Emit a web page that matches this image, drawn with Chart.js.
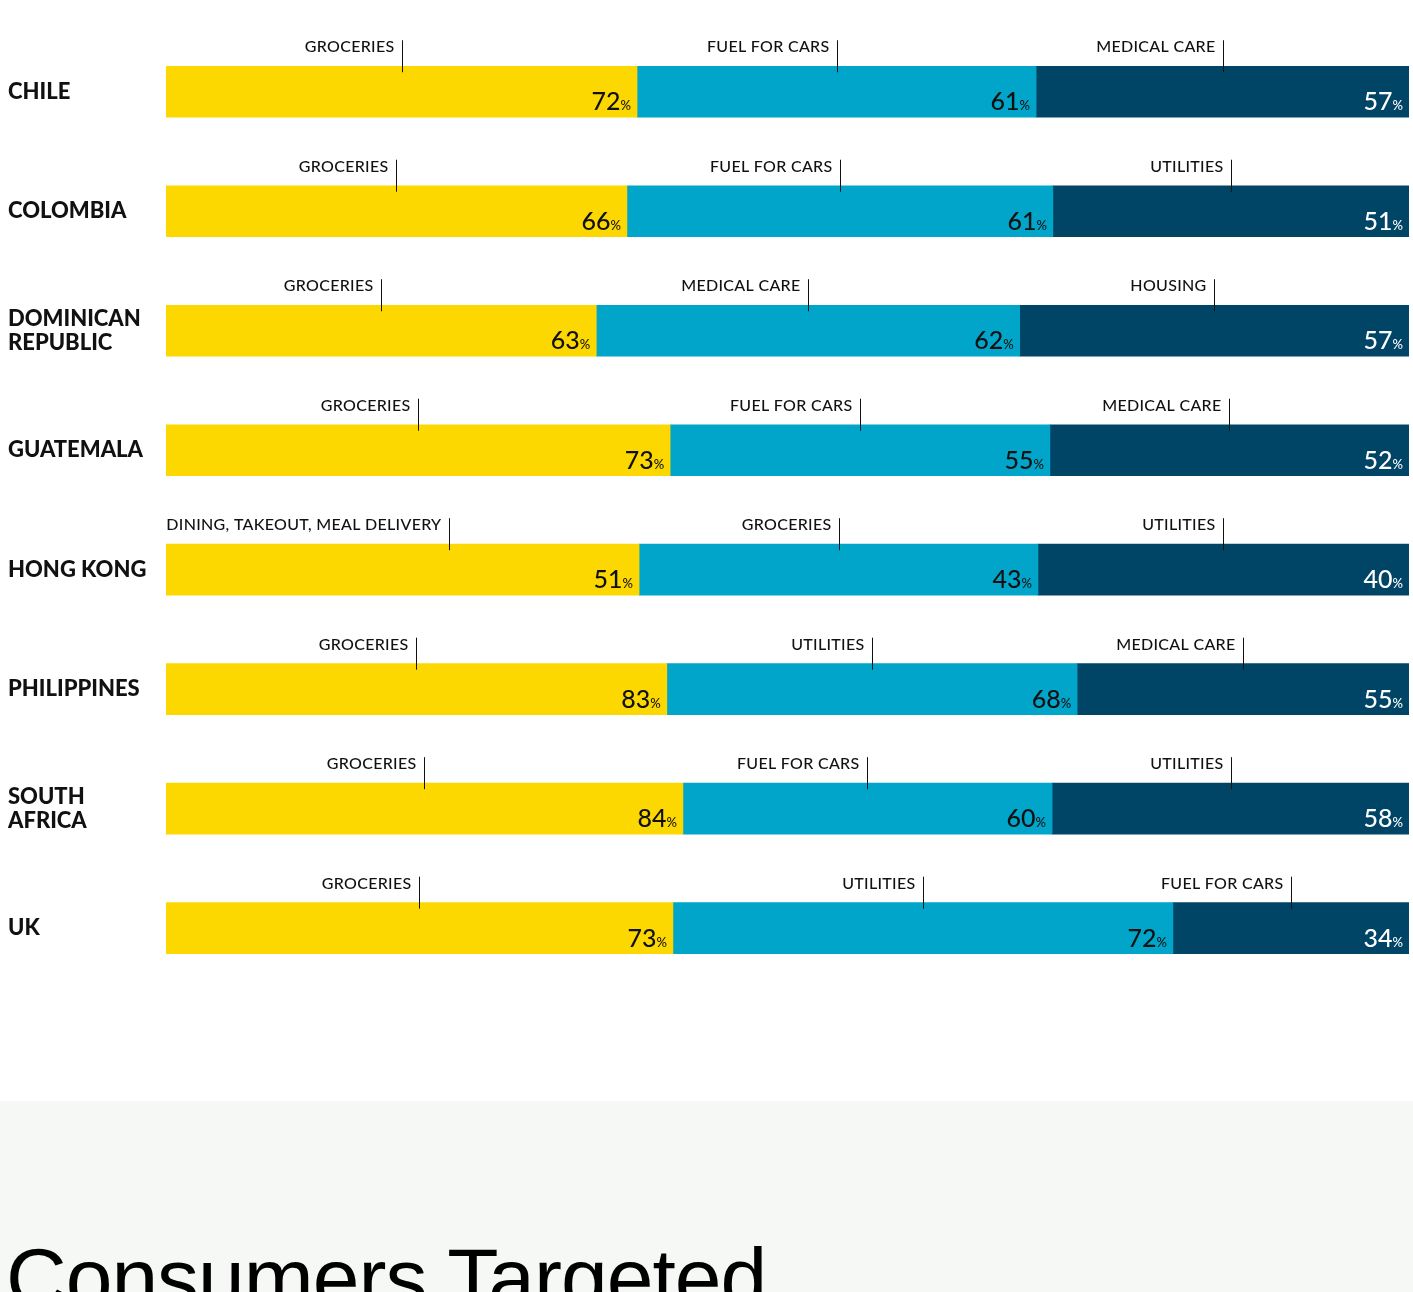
<!DOCTYPE html>
<html>
<head>
<meta charset="utf-8">
<script src="https://cdn.jsdelivr.net/npm/chart.js@4/dist/chart.umd.min.js"></script>
<style>
  html, body { margin: 0; padding: 0; background: #fff; }
  body { height: 1292px; overflow: hidden; }
  #wrap { position: relative; width: 1413px; height: 1000px; }
  #band { position: absolute; left: 0; top: 1101px; width: 1413px; height: 191px; background: #f6f8f6; overflow: hidden; }
  #band h1 { position: absolute; left: 6px; top: 129px; margin: 0; font-family: "Liberation Sans", Arial, sans-serif; font-weight: 400; font-size: 84px; letter-spacing: -1px; color: #000; white-space: nowrap; }
</style>
</head>
<body>
<div id="wrap"><canvas id="spendChart"></canvas></div>
<div id="band"><h1>Consumers Targeted</h1></div>
<script>
// countries (multi-line labels as arrays)
var countries = [['CHILE'], ['COLOMBIA'], ['DOMINICAN', 'REPUBLIC'], ['GUATEMALA'], ['HONG KONG'], ['PHILIPPINES'], ['SOUTH', 'AFRICA'], ['UK']];

// first, second and third spending category per country
var firstLabels = ['GROCERIES', 'GROCERIES', 'GROCERIES', 'GROCERIES', 'DINING, TAKEOUT, MEAL DELIVERY', 'GROCERIES', 'GROCERIES', 'GROCERIES'];
var firstValues = [72, 66, 63, 73, 51, 83, 84, 73];

var secondLabels = ['FUEL FOR CARS', 'FUEL FOR CARS', 'MEDICAL CARE', 'FUEL FOR CARS', 'GROCERIES', 'UTILITIES', 'FUEL FOR CARS', 'UTILITIES'];
var secondValues = [61, 61, 62, 55, 43, 68, 60, 72];

var thirdLabels = ['MEDICAL CARE', 'UTILITIES', 'HOUSING', 'MEDICAL CARE', 'UTILITIES', 'MEDICAL CARE', 'UTILITIES', 'FUEL FOR CARS'];
var thirdValues = [57, 51, 57, 52, 40, 55, 58, 34];

var colors = ['#fcd800', '#00a5c9', '#004466'];
var textColors = ['#111111', '#111111', '#ffffff'];

// each row fills the full width, so segments are shares of the row total
var totals = firstValues.map(function(v, i) { return v + secondValues[i] + thirdValues[i]; });
function share(arr) {
    return arr.map(function(v, i) { return v / totals[i] * 100; });
}

// Draws the category name with its marker line and the value at the segment end
var segmentLabels = {
    id: 'segmentLabels',
    afterDatasetsDraw: function(chart) {
        var ctx = chart.ctx;
        var areaLeft = chart.chartArea.left;
        chart.data.datasets.forEach(function(ds, d) {
            var meta = chart.getDatasetMeta(d);
            meta.data.forEach(function(bar, i) {
                var left = Math.min(bar.base, bar.x);
                var right = Math.max(bar.base, bar.x);
                var top = bar.y - bar.height / 2;
                var bottom = bar.y + bar.height / 2;

                ctx.save();
                ctx.fillStyle = '#111';
                ctx.font = '500 16px Lato, sans-serif';
                ctx.letterSpacing = '0.3px';
                ctx.textAlign = 'right';
                ctx.textBaseline = 'alphabetic';
                var nameW = ctx.measureText(ds.names[i]).width;

                // marker sits mid-segment unless the name would run off the chart's left edge
                var mid = Math.round((left + right) / 2) + 0.5;
                if (mid - 8 - nameW < areaLeft) {
                    mid = Math.round(areaLeft + nameW + 8) + 0.5;
                }

                ctx.strokeStyle = '#111';
                ctx.lineWidth = 1;
                ctx.beginPath();
                ctx.moveTo(mid, top - 26);
                ctx.lineTo(mid, top + 6);
                ctx.stroke();

                ctx.fillText(ds.names[i], mid - 8, top - 14);

                // value + small percent sign
                ctx.letterSpacing = '0px';
                ctx.fillStyle = textColors[d];
                ctx.font = '500 13px Lato, sans-serif';
                var pctW = ctx.measureText('%').width;
                ctx.fillText('%', right - 6, bottom - 7);
                ctx.font = '500 25px Lato, sans-serif';
                ctx.fillText(String(ds.raw[i]), right - 6 - pctW, bottom - 7);
                ctx.restore();
            });
        });
    }
};

var ctx = document.getElementById('spendChart').getContext('2d');
var spendChart = new Chart(ctx, {
    type: 'bar',
    data: {
        labels: countries,
        datasets: [
            { data: share(firstValues), raw: firstValues, names: firstLabels, backgroundColor: colors[0] },
            { data: share(secondValues), raw: secondValues, names: secondLabels, backgroundColor: colors[1] },
            { data: share(thirdValues), raw: thirdValues, names: thirdLabels, backgroundColor: colors[2] }
        ]
    },
    options: {
        indexAxis: 'y',
        responsive: true,
        maintainAspectRatio: false,
        animation: false,
        events: [],
        datasets: {
            bar: { barThickness: 51, borderWidth: 0, borderSkipped: false }
        },
        layout: {
            padding: { top: 32, right: 4, bottom: 12, left: 8 }
        },
        scales: {
            x: {
                stacked: true,
                min: 0,
                max: 100,
                display: false
            },
            y: {
                stacked: true,
                grid: { display: false, drawTicks: false },
                border: { display: false },
                afterFit: function(scale) { scale.width = 158; },
                ticks: {
                    crossAlign: 'far',
                    color: '#111',
                    padding: 0,
                    font: { family: 'Lato, sans-serif', size: 22, weight: '900', lineHeight: 1.1 }
                }
            }
        },
        plugins: {
            legend: { display: false },
            tooltip: { enabled: false }
        }
    },
    plugins: [segmentLabels]
});
</script>
</body>
</html>
